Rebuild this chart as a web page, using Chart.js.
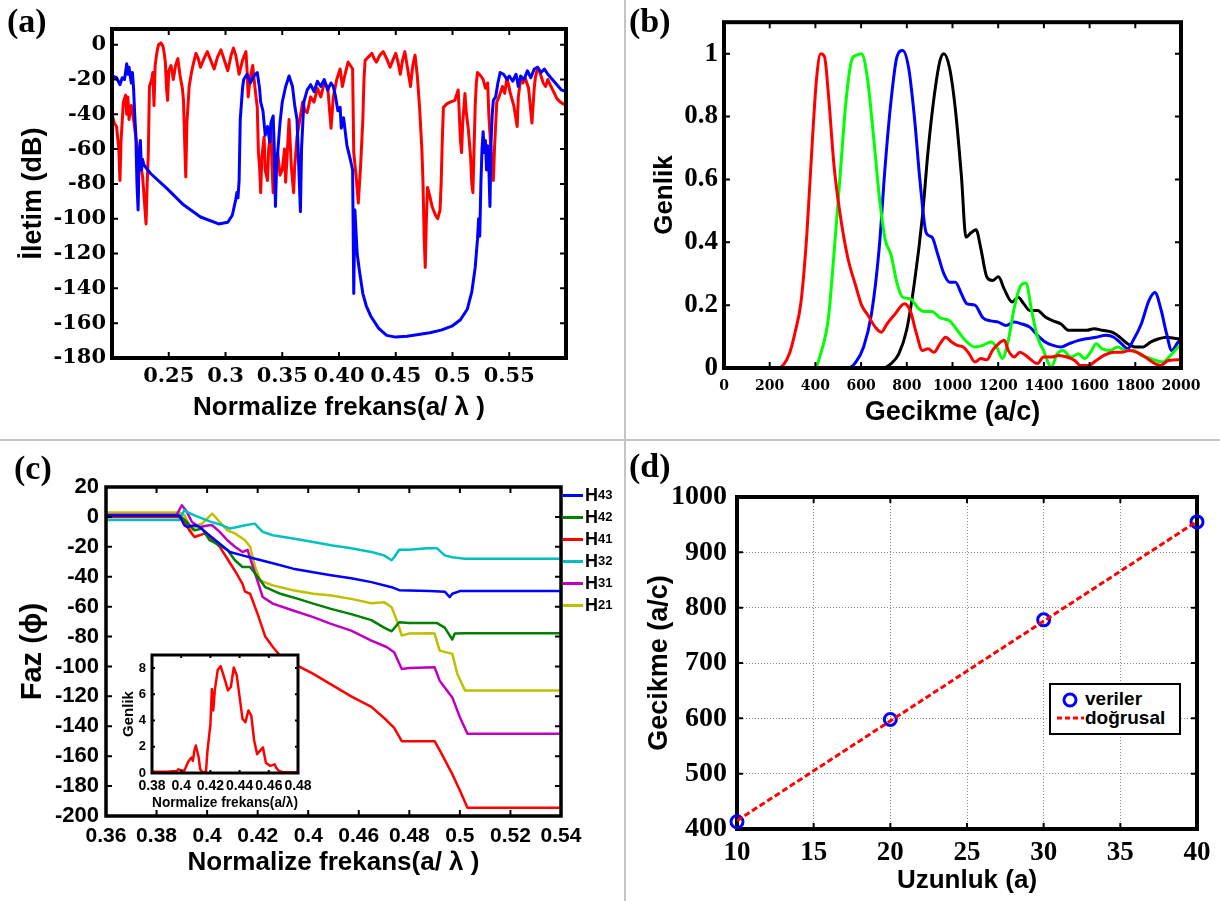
<!DOCTYPE html>
<html>
<head>
<meta charset="utf-8">
<script src="https://cdn.jsdelivr.net/npm/chart.js@4.4.1/dist/chart.umd.min.js"></script>
<style>
  body { margin: 0; background: #fff; width: 1220px; height: 901px; position: relative; overflow: hidden;
         font-family: 'Liberation Sans', Arial, sans-serif; }
  canvas { position: absolute; }
  .sep { position: absolute; background: #c4c4c4; }
  .tag { position: absolute; font: bold 34px 'Liberation Serif', serif; line-height: 1; }
  .lg-row { position: absolute; left: 563px; height: 20px; display: flex; align-items: center;
            font: bold 18px 'Liberation Sans', Arial, sans-serif; }
  .lg-row i { display: inline-block; width: 20px; height: 3px; margin-right: 2px; }
  .lg-row sub { font-size: 13px; vertical-align: -5px; line-height: 0; }
  #legendD { position: absolute; left: 1049px; top: 683px; width: 128px; height: 48px;
             border: 2px solid #000; background: #fff; font: bold 19px 'Liberation Sans', Arial, sans-serif; }
  #legendD div { position: absolute; left: 34px; line-height: 20px; }
</style>
</head>
<body>
<div class="sep" style="left:624px;top:0;width:2px;height:901px"></div>
<div class="sep" style="left:0;top:439px;width:1220px;height:2px"></div>

<canvas id="chartA" width="622" height="438" style="left:0;top:0"></canvas>
<canvas id="chartB" width="594" height="438" style="left:626px;top:0"></canvas>
<canvas id="chartC" width="622" height="459" style="left:0;top:442px"></canvas>
<canvas id="chartD" width="594" height="459" style="left:626px;top:442px"></canvas>
<canvas id="chartInset" width="215" height="175" style="left:110px;top:640px"></canvas>

<div class="tag" style="left:7px;top:4px">(a)</div>
<div class="tag" style="left:629px;top:4px">(b)</div>
<div class="tag" style="left:14px;top:451px">(c)</div>
<div class="tag" style="left:629px;top:449px">(d)</div>

<div id="legendC"></div>

<div id="legendD">
  <svg style="position:absolute;left:4px;top:4px" width="30" height="40">
    <circle cx="15" cy="11" r="6" fill="none" stroke="#0000ff" stroke-width="3"/>
    <line x1="2" y1="29" x2="29" y2="29" stroke="#ff0000" stroke-width="3" stroke-dasharray="5 3"/>
  </svg>
  <div style="top:4px">veriler</div>
  <div style="top:23px">doğrusal</div>
</div>

<script>
// ─── Panel (a): transmission (dB) vs normalized frequency ─────────────────────
const A_BLUE_F = [0.200, 0.204, 0.207, 0.209, 0.211, 0.213, 0.214, 0.215, 0.217, 0.218, 0.219, 0.220, 0.221, 0.222, 0.223, 0.224, 0.225, 0.226, 0.227, 0.228,
  0.234, 0.249, 0.263, 0.278, 0.294, 0.302, 0.306, 0.309, 0.310, 0.311, 0.312, 0.313, 0.315, 0.316, 0.319, 0.322, 0.325, 0.328, 0.330, 0.331,
  0.333, 0.335, 0.337, 0.339, 0.340, 0.342, 0.343, 0.344, 0.345, 0.346, 0.348, 0.350, 0.353, 0.356, 0.359, 0.361, 0.363, 0.364, 0.366, 0.367,
  0.369, 0.372, 0.375, 0.378, 0.381, 0.384, 0.387, 0.390, 0.393, 0.395, 0.397, 0.399, 0.401, 0.402, 0.404, 0.407, 0.410, 0.412, 0.413, 0.414,
  0.416, 0.418, 0.421, 0.424, 0.428, 0.435, 0.442, 0.450, 0.460, 0.470, 0.480, 0.490, 0.500, 0.507, 0.513, 0.517, 0.520, 0.522, 0.523, 0.524,
  0.525, 0.526, 0.527, 0.528, 0.529, 0.530, 0.531, 0.532, 0.533, 0.534, 0.535, 0.536, 0.538, 0.540, 0.542, 0.545, 0.548, 0.550, 0.553, 0.556,
  0.558, 0.560, 0.563, 0.566, 0.569, 0.572, 0.575, 0.578, 0.581, 0.584, 0.588, 0.592, 0.596, 0.600];
const A_BLUE_DB = [-18, -19, -23, -19, -20, -11, -17, -13, -22, -16, -25, -40, -52, -80, -95, -62, -55, -72, -66, -69,
  -74, -83, -92, -99, -103, -102, -98, -89, -85, -88, -78, -43, -25, -20, -17, -22, -18, -16, -25, -33,
  -38, -52, -47, -56, -45, -41, -60, -93, -70, -62, -45, -33, -24, -18, -24, -35, -43, -60, -96, -60,
  -33, -26, -23, -27, -21, -24, -20, -26, -22, -24, -30, -38, -36, -48, -42, -58, -66, -72, -143, -95,
  -120, -130, -143, -150, -156, -163, -167, -168, -167.5, -166.5, -165.5, -164, -161.5, -158, -152, -142, -128, -112, -100, -110,
  -80, -60, -50, -62, -55, -72, -58, -70, -93, -55, -40, -32, -30, -22, -16, -17, -20, -18, -21, -17,
  -24, -18, -20, -15, -19, -14, -13, -16, -14, -17, -20, -23, -26, -27];

const A_RED_F = [0.200, 0.202, 0.204, 0.206, 0.207, 0.208, 0.210, 0.212, 0.213, 0.214, 0.215, 0.217, 0.218, 0.220, 0.221, 0.223, 0.224, 0.226, 0.227, 0.228,
  0.230, 0.231, 0.232, 0.233, 0.235, 0.236, 0.237, 0.238, 0.239, 0.240, 0.241, 0.243, 0.245, 0.246, 0.247, 0.248, 0.249, 0.250, 0.252, 0.254,
  0.256, 0.258, 0.260, 0.262, 0.263, 0.264, 0.265, 0.266, 0.268, 0.270, 0.272, 0.274, 0.276, 0.278, 0.281, 0.284, 0.287, 0.290, 0.293, 0.296,
  0.299, 0.302, 0.305, 0.307, 0.309, 0.312, 0.315, 0.318, 0.319, 0.320, 0.322, 0.324, 0.326, 0.328, 0.329, 0.330, 0.331, 0.332, 0.334, 0.335,
  0.337, 0.338, 0.340, 0.341, 0.342, 0.344, 0.346, 0.348, 0.350, 0.352, 0.353, 0.355, 0.356, 0.358, 0.360, 0.361, 0.363, 0.365, 0.368, 0.370,
  0.372, 0.375, 0.378, 0.381, 0.384, 0.387, 0.390, 0.392, 0.393, 0.395, 0.398, 0.401, 0.403, 0.405, 0.408, 0.410, 0.412, 0.413, 0.415, 0.417,
  0.419, 0.421, 0.422, 0.423, 0.426, 0.429, 0.431, 0.433, 0.436, 0.439, 0.442, 0.445, 0.448, 0.450, 0.452, 0.454, 0.456, 0.458, 0.460, 0.463,
  0.465, 0.467, 0.469, 0.471, 0.473, 0.474, 0.475, 0.476, 0.477, 0.478, 0.480, 0.482, 0.485, 0.487, 0.489, 0.490, 0.491, 0.492, 0.495, 0.498,
  0.502, 0.505, 0.506, 0.507, 0.508, 0.509, 0.511, 0.512, 0.514, 0.516, 0.517, 0.518, 0.519, 0.520, 0.521, 0.522, 0.525, 0.527, 0.529, 0.531,
  0.532, 0.534, 0.535, 0.536, 0.537, 0.539, 0.541, 0.544, 0.546, 0.548, 0.551, 0.554, 0.557, 0.558, 0.560, 0.562, 0.564, 0.567, 0.570, 0.572,
  0.573, 0.575, 0.577, 0.580, 0.582, 0.584, 0.586, 0.589, 0.592, 0.595, 0.600];
const A_RED_DB = [-40, -45, -47, -60, -78, -55, -33, -29, -40, -30, -43, -35, -38, -48, -53, -62, -68, -72, -76, -85,
  -103, -80, -62, -24, -20, -16, -35, -12, -7, -3, 0, 1, -1, -5, -10, -25, -32, -15, -12, -20,
  -12, -8, -18, -25, -32, -55, -76, -45, -24, -16, -10, -5, -8, -13, -8, -4, -9, -14, -7, -3,
  -9, -15, -6, -2, -6, -17, -9, -4, -15, -30, -18, -12, -25, -36, -62, -70, -85, -65, -53, -72,
  -78, -60, -49, -70, -85, -65, -62, -75, -72, -60, -79, -55, -43, -70, -85, -70, -53, -45, -33, -38,
  -39, -30, -33, -25, -30, -22, -24, -40, -48, -30, -20, -14, -24, -18, -10, -12, -14, -62, -75, -91,
  -70, -43, -20, -9, -7, -5, -8, -10, -6, -4, -8, -13, -8, -5, -10, -17, -9, -4, -12, -24,
  -12, -6, -18, -36, -60, -79, -110, -128, -100, -82, -87, -93, -98, -100, -95, -80, -55, -36, -34, -33,
  -32, -26, -40, -55, -62, -45, -28, -38, -49, -65, -80, -85, -60, -35, -22, -16, -18, -20, -25, -22,
  -40, -62, -70, -78, -60, -33, -30, -24, -28, -19, -28, -35, -47, -30, -20, -22, -19, -25, -45, -25,
  -19, -13, -16, -22, -24, -20, -23, -27, -31, -33, -35];

const A_XTICKS = [0.25, 0.3, 0.35, 0.4, 0.45, 0.5, 0.55];
const A_XLABELS = ['0.25', '0.3', '0.35', '0.40', '0.45', '0.5', '0.55'];
const A_YTICKS = [0, -20, -40, -60, -80, -100, -120, -140, -160, -180];
const A_YLABELS = ['0', '-20', '-40', '-60', '-80', '-100', '-120', '-140', '-160', '-180'];

// ─── Panel (b): normalized amplitude vs delay ─────────────────────────────────
const B_RED_T = [0, 234, 260, 286, 310, 337, 363, 388, 405, 423, 440, 457, 482, 508, 542, 577, 602, 628, 662, 688, 713, 747, 790, 816, 842, 868, 893, 919, 945, 970,
  996, 1021, 1047, 1073, 1098, 1124, 1150, 1175, 1201, 1227, 1244, 1270, 1295, 1321, 1347, 1372, 1398, 1432, 1466, 1501, 1535, 1560, 1595, 1629, 1663, 1706, 1740, 1774, 1808, 1843,
  1886, 1911, 1945, 1988, 2000];
const B_RED_A = [0, 0, 0.01, 0.045, 0.11, 0.21, 0.43, 0.74, 0.92, 1.0, 0.99, 0.87, 0.64, 0.49, 0.35, 0.26, 0.20, 0.17, 0.13, 0.114, 0.14, 0.17, 0.204, 0.18, 0.11, 0.056, 0.061, 0.05, 0.077, 0.098,
  0.083, 0.072, 0.067, 0.045, 0.019, 0.03, 0.026, 0.056, 0.077, 0.088, 0.056, 0.035, 0.05, 0.04, 0.024, 0.014, 0.035, 0.035, 0.04, 0.035, 0.024, 0.008, 0.008, 0.024, 0.04, 0.05, 0.05, 0.056, 0.05, 0.035,
  0.014, 0.008, 0.024, 0.026, 0.026];
const B_GREEN_T = [0, 397, 423, 457, 482, 508, 534, 559, 580, 602, 628, 654, 679, 705, 731, 757, 782, 816, 850, 876, 910, 945, 988, 1021, 1056, 1098, 1133, 1167, 1193, 1218,
  1244, 1270, 1295, 1321, 1347, 1372, 1398, 1432, 1458, 1484, 1518, 1552, 1578, 1604, 1629, 1655, 1689, 1723, 1757, 1791, 1826, 1868, 1920, 1954, 1988, 2000];
const B_GREEN_A = [0, 0, 0.045, 0.16, 0.37, 0.61, 0.85, 0.98, 0.995, 1.0, 0.92, 0.74, 0.55, 0.41, 0.36, 0.27, 0.225, 0.22, 0.19, 0.18, 0.18, 0.16, 0.15, 0.12, 0.088, 0.067, 0.072, 0.083, 0.067, 0.03,
  0.088, 0.19, 0.257, 0.27, 0.18, 0.098, 0.056, 0.003, 0.045, 0.056, 0.035, 0.045, 0.03, 0.05, 0.077, 0.061, 0.056, 0.067, 0.056, 0.056, 0.04, 0.03, 0.019, 0.04, 0.067, 0.075];
const B_BLUE_T = [0, 542, 577, 611, 645, 679, 705, 731, 757, 782, 808, 833, 859, 885, 910, 936, 962, 987, 1013, 1039, 1064, 1098, 1133, 1167, 1201, 1235, 1270, 1304, 1338, 1372,
  1406, 1440, 1475, 1509, 1552, 1586, 1629, 1672, 1706, 1740, 1766, 1791, 1826, 1860, 1886, 1911, 1937, 1959, 1988, 2000];
const B_BLUE_A = [0, 0, 0.019, 0.067, 0.17, 0.38, 0.64, 0.85, 0.99, 1.01, 0.955, 0.8, 0.585, 0.43, 0.416, 0.36, 0.30, 0.273, 0.273, 0.236, 0.204, 0.2, 0.16, 0.15, 0.146, 0.135, 0.146, 0.14, 0.13, 0.104,
  0.083, 0.072, 0.067, 0.077, 0.088, 0.093, 0.098, 0.104, 0.098, 0.077, 0.061, 0.088, 0.14, 0.215, 0.24, 0.19, 0.109, 0.056, 0.083, 0.09];
const B_BLACK_T = [0, 696, 731, 765, 799, 833, 868, 893, 919, 945, 962, 987, 1013, 1039, 1059, 1081, 1103, 1124, 1150, 1175, 1201, 1227, 1261, 1287, 1312, 1338, 1372, 1406, 1440, 1475,
  1509, 1552, 1586, 1620, 1655, 1698, 1732, 1766, 1800, 1834, 1868, 1903, 1937, 1988, 2000];
const B_BLACK_A = [0, 0, 0.014, 0.045, 0.12, 0.27, 0.48, 0.69, 0.86, 0.977, 1.0, 0.955, 0.82, 0.61, 0.416, 0.43, 0.44, 0.38, 0.29, 0.278, 0.29, 0.25, 0.21, 0.225, 0.204, 0.183, 0.183, 0.162, 0.15, 0.14,
  0.12, 0.12, 0.12, 0.125, 0.12, 0.114, 0.098, 0.077, 0.067, 0.067, 0.083, 0.093, 0.098, 0.093, 0.093];

const B_XTICKS = [0, 200, 400, 600, 800, 1000, 1200, 1400, 1600, 1800, 2000];
const B_XLABELS = ['0', '200', '400', '600', '800', '1000', '1200', '1400', '1600', '1800', '2000'];
const B_YTICKS = [0, 0.2, 0.4, 0.6, 0.8, 1];
const B_YLABELS = ['0', '0.2', '0.4', '0.6', '0.8', '1'];

// ─── Panel (c): phase vs normalized frequency ─────────────────────────────────
const C_H43_F = [0.36, 0.389, 0.391, 0.392, 0.395, 0.397, 0.4, 0.405, 0.409, 0.414, 0.419, 0.426, 0.434, 0.442, 0.449, 0.457, 0.465, 0.473, 0.476, 0.488, 0.494, 0.496, 0.497, 0.5, 0.54];
const C_H43_P = [1, 1, -5.6, -6.7, -5.6, -6.7, -11, -18, -23.5, -25.7, -28, -31, -34.6, -37, -39, -41, -43.6, -47, -49, -49.6, -50, -53.6, -51.4, -49.6, -49.6];
const C_H42_F = [0.36, 0.389, 0.392, 0.395, 0.398, 0.401, 0.405, 0.408, 0.411, 0.414, 0.417, 0.42, 0.423, 0.429, 0.436, 0.442, 0.449, 0.457, 0.465, 0.47, 0.473, 0.476, 0.48, 0.491, 0.494, 0.497, 0.498, 0.502, 0.54];
const C_H42_P = [1, 1, -3.4, -9, -7.8, -15.6, -19, -22, -29, -33.5, -33.5, -40, -47, -51.4, -54.8, -58, -61.5, -65, -69, -74, -76.5, -70.4, -71, -71, -74, -82, -78, -77.8, -77.8];
const C_H41_F = [0.36, 0.389, 0.391, 0.393, 0.395, 0.397, 0.399, 0.401, 0.405, 0.408, 0.411, 0.414, 0.415, 0.417, 0.42, 0.423, 0.426, 0.429, 0.434, 0.442, 0.449, 0.457, 0.465, 0.471, 0.474, 0.477, 0.48, 0.49, 0.492, 0.497, 0.5, 0.503, 0.54];
const C_H41_P = [0, 0, -2.2, -9, -13.4, -12.3, -11, -13.4, -20, -28, -36, -44.7, -50, -51.4, -65, -80, -87, -93, -98, -105, -112, -120, -127, -136, -141, -150, -150, -150, -156, -172, -183, -194.5, -194.5];
const C_H32_F = [0.36, 0.389, 0.391, 0.392, 0.395, 0.398, 0.401, 0.406, 0.409, 0.412, 0.415, 0.419, 0.42, 0.422, 0.426, 0.434, 0.442, 0.449, 0.457, 0.465, 0.47, 0.473, 0.474, 0.476, 0.48, 0.487, 0.491, 0.494, 0.497, 0.502, 0.54];
const C_H32_P = [-2, -2, 4.5, 3.4, 1, -1, -3, -5.6, -7.8, -6.7, -5.6, -4.5, -6.7, -10, -12.3, -14.5, -16.8, -19, -21, -23.5, -25.7, -29, -27, -22, -22, -21, -21, -25.7, -27, -28, -28];
const C_H31_F = [0.36, 0.388, 0.39, 0.392, 0.394, 0.397, 0.401, 0.402, 0.405, 0.408, 0.411, 0.414, 0.416, 0.419, 0.422, 0.426, 0.434, 0.442, 0.449, 0.457, 0.465, 0.471, 0.474, 0.477, 0.48, 0.49, 0.492, 0.497, 0.5, 0.503, 0.54];
const C_H31_P = [1.5, 1.5, 7.8, 3.4, -3.4, -6.7, -5.6, -5.6, -10, -15.6, -20, -23.5, -22, -38, -53.6, -58, -62.6, -67, -71.5, -76, -82.7, -87, -90.5, -101.7, -101, -100.6, -109.5, -120.7, -134, -145, -145];
const C_H21_F = [0.36, 0.389, 0.391, 0.394, 0.396, 0.398, 0.402, 0.405, 0.408, 0.411, 0.415, 0.417, 0.419, 0.421, 0.426, 0.434, 0.442, 0.449, 0.457, 0.465, 0.47, 0.473, 0.475, 0.477, 0.48, 0.488, 0.49, 0.492, 0.497, 0.499, 0.502, 0.54];
const C_H21_P = [3, 3, 1, -9, -5.6, -4.5, 2.2, -3.4, -9, -11, -15.6, -20, -33.5, -42.5, -45.8, -49, -51.4, -52.5, -54.8, -57.7, -57, -60.4, -69, -79.3, -78, -77.8, -78, -89.4, -91.6, -105, -116, -116];

const C_SERIES = ['H43', 'H42', 'H41', 'H32', 'H31', 'H21'];
const C_COLORS = ['#0000ff', '#008000', '#ff0000', '#00bfbf', '#bf00bf', '#bfbf00'];

const C_XTICKS = [0.36, 0.38, 0.40, 0.42, 0.44, 0.46, 0.48, 0.50, 0.52, 0.54];
const C_XLABELS = ['0.36', '0.38', '0.4', '0.42', '0.4', '0.46', '0.48', '0.5', '0.52', '0.54'];
const C_YTICKS = [20, 0, -20, -40, -60, -80, -100, -120, -140, -160, -180, -200];
const C_YLABELS = ['20', '0', '-20', '-40', '-60', '-80', '-100', '-120', '-140', '-160', '-180', '-200'];

// inset: amplitude spectrum
const INSET_F = [0.38, 0.39, 0.397, 0.398, 0.402, 0.405, 0.407, 0.408, 0.409, 0.41, 0.412, 0.413, 0.415, 0.417, 0.418, 0.42, 0.421, 0.422, 0.423, 0.425, 0.427,
  0.43, 0.432, 0.434, 0.436, 0.438, 0.44, 0.442, 0.444, 0.446, 0.448, 0.45, 0.452, 0.455, 0.456, 0.458, 0.461, 0.464, 0.465, 0.467, 0.47, 0.48];
const INSET_A = [0.1, 0.1, 0.15, 0.28, 0.15, 0.9, 1.18, 0.92, 1.7, 2.1, 1.18, 0.28, 0, 0.15, 1.7, 3.7, 6.4, 4.77, 6.3, 7.85, 8.15,
  7.08, 6.3, 6.56, 8.05, 7.46, 5.8, 4.13, 3.87, 4.77, 4.38, 2.46, 1.44, 1.82, 1.95, 0.79, 0.54, 0.66, 0.41, 0.15, 0.05, 0.03];
const INSET_XTICKS = [0.38, 0.40, 0.42, 0.44, 0.46, 0.48];
const INSET_XLABELS = ['0.38', '0.4', '0.42', '0.44', '0.46', '0.48'];
const INSET_YTICKS = [0, 2, 4, 6, 8];
const INSET_YLABELS = ['0', '2', '4', '6', '8'];

// ─── Panel (d): delay vs length ───────────────────────────────────────────────
const D_LENGTH = [10, 20, 30, 40];
const D_DELAY = [413, 598, 778, 955];
const D_FIT_X = [10, 40];
const D_FIT_Y = [415, 956];
const D_XTICKS = [10, 15, 20, 25, 30, 35, 40];
const D_XLABELS = ['10', '15', '20', '25', '30', '35', '40'];
const D_YTICKS = [400, 500, 600, 700, 800, 900, 1000];
const D_YLABELS = ['400', '500', '600', '700', '800', '900', '1000'];

// ─── Fonts ────────────────────────────────────────────────────────────────────
const SANS = "'Liberation Sans', Arial, sans-serif";
const SERIF = "'Liberation Serif', serif";
const DJ_SERIF = "'DejaVu Serif', serif";

function xy(xs, ys) {
    return xs.map((x, i) => ({ x, y: ys[i] }));
}

// ─── Frame plugin: thick box + inward tick marks (MATLAB style) ───────────────
function drawFrame(chart, o) {
    const { ctx, chartArea: a, scales } = chart;
    ctx.save();
    ctx.strokeStyle = '#000';
    ctx.lineWidth = o.tickWidth || 2;
    ctx.beginPath();
    scales.x.ticks.forEach(tk => {
        const px = scales.x.getPixelForValue(tk.value);
        ctx.moveTo(px, a.bottom); ctx.lineTo(px, a.bottom - o.tick);
        ctx.moveTo(px, a.top); ctx.lineTo(px, a.top + o.tick);
    });
    scales.y.ticks.forEach(tk => {
        const py = scales.y.getPixelForValue(tk.value);
        ctx.moveTo(a.left, py); ctx.lineTo(a.left + o.tick, py);
        ctx.moveTo(a.right, py); ctx.lineTo(a.right - o.tick, py);
    });
    ctx.stroke();
    ctx.lineWidth = o.width;
    ctx.strokeRect(a.left, a.top, a.right - a.left, a.bottom - a.top);
    ctx.restore();
}

const framePlugin = {
    id: 'frame',
    beforeDraw(chart, args, o) {
        if (!o.fill) return;
        const { ctx, chartArea: a } = chart;
        ctx.save();
        ctx.fillStyle = o.fill;
        ctx.fillRect(a.left, a.top, a.right - a.left, a.bottom - a.top);
        ctx.restore();
    },
    beforeDatasetsDraw(chart, args, o) { if (!o.onTop) drawFrame(chart, o); },
    afterDatasetsDraw(chart, args, o) { if (o.onTop) drawFrame(chart, o); },
};

// ─── Axis factory ─────────────────────────────────────────────────────────────
function makeAxis(o) {
    const vertical = o.position === 'left';
    return {
        type: 'linear',
        position: o.position,
        bounds: 'data',
        min: o.min,
        max: o.max,
        afterBuildTicks: s => { s.ticks = o.ticks.map(v => ({ value: v })); },
        afterFit: s => { if (vertical) s.width = o.size; else s.height = o.size; },
        grid: o.grid || { display: false, drawTicks: false },
        border: o.border || { display: false },
        ticks: {
            autoSkip: false,
            maxRotation: 0,
            minRotation: 0,
            padding: o.pad,
            color: '#000',
            font: o.font,
            callback: (v, i) => o.labels[i],
        },
        title: {
            display: true,
            text: o.title,
            color: '#000',
            font: o.titleFont,
            padding: vertical ? { top: o.titlePad, bottom: 0 } : { top: 0, bottom: o.titlePad },
        },
    };
}

function baseOptions(padding, scales, frame) {
    return {
        responsive: false,
        animation: false,
        events: [],
        layout: { padding },
        scales,
        plugins: {
            legend: { display: false },
            tooltip: { enabled: false },
            frame,
        },
    };
}

function lineSet(data, color, width, extra = {}) {
    return Object.assign({
        data,
        borderColor: color,
        backgroundColor: color,
        borderWidth: width,
        pointRadius: 0,
        tension: 0,
        borderJoinStyle: 'round',
        borderCapStyle: 'round',
    }, extra);
}

// ─── Panel (a) ────────────────────────────────────────────────────────────────
new Chart(document.getElementById('chartA'), {
    type: 'line',
    data: {
        datasets: [
            lineSet(xy(A_BLUE_F, A_BLUE_DB), '#0000ff', 3),
            lineSet(xy(A_RED_F, A_RED_DB), '#ff0000', 3),
        ]
    },
    options: baseOptions({ left: 12, right: 56, top: 29, bottom: 0 }, {
        x: makeAxis({
            position: 'bottom', min: 0.2, max: 0.6, ticks: A_XTICKS, labels: A_XLABELS, size: 80, pad: 6,
            font: { family: DJ_SERIF, size: 21, weight: 'bold' },
            title: 'Normalize frekans(a/ λ )', titleFont: { family: SANS, size: 26, weight: 'bold' }, titlePad: 15,
        }),
        y: makeAxis({
            position: 'left', min: -180, max: 9, ticks: A_YTICKS, labels: A_YLABELS, size: 100, pad: 6,
            font: { family: DJ_SERIF, size: 21, weight: 'bold' },
            title: 'İletim (dB)', titleFont: { family: SANS, size: 27, weight: 'bold' }, titlePad: 5,
        }),
    }, { width: 4, tick: 6, onTop: true }),
    plugins: [framePlugin],
});

// ─── Panel (b) ────────────────────────────────────────────────────────────────
const smooth = { cubicInterpolationMode: 'monotone' };
new Chart(document.getElementById('chartB'), {
    type: 'line',
    data: {
        datasets: [
            lineSet(xy(B_RED_T, B_RED_A), '#ff0000', 3, smooth),
            lineSet(xy(B_GREEN_T, B_GREEN_A), '#00ff00', 3, smooth),
            lineSet(xy(B_BLUE_T, B_BLUE_A), '#0000ff', 3, smooth),
            lineSet(xy(B_BLACK_T, B_BLACK_A), '#000000', 3, smooth),
        ]
    },
    options: baseOptions({ left: 0, right: 39, top: 21, bottom: 0 }, {
        x: makeAxis({
            position: 'bottom', min: 0, max: 2000, ticks: B_XTICKS, labels: B_XLABELS, size: 70, pad: 10,
            font: { family: DJ_SERIF, size: 14, weight: 'bold' },
            title: 'Gecikme (a/c)', titleFont: { family: SANS, size: 27, weight: 'bold' }, titlePad: 9,
        }),
        y: makeAxis({
            position: 'left', min: 0, max: 1.1, ticks: B_YTICKS, labels: B_YLABELS, size: 98, pad: 6,
            font: { family: SERIF, size: 27, weight: 'bold' },
            title: 'Genlik', titleFont: { family: SANS, size: 26, weight: 'bold' }, titlePad: 23,
        }),
    }, { width: 4, tick: 6, onTop: true }),
    plugins: [framePlugin],
});

// ─── Panel (c) ────────────────────────────────────────────────────────────────
const C_DATA = [
    xy(C_H43_F, C_H43_P), xy(C_H42_F, C_H42_P), xy(C_H41_F, C_H41_P),
    xy(C_H32_F, C_H32_P), xy(C_H31_F, C_H31_P), xy(C_H21_F, C_H21_P),
];
new Chart(document.getElementById('chartC'), {
    type: 'line',
    data: {
        datasets: C_DATA.map((d, i) => lineSet(d, C_COLORS[i], 2.5, { label: C_SERIES[i] }))
    },
    options: baseOptions({ left: 0, right: 61, top: 45, bottom: 0 }, {
        x: makeAxis({
            position: 'bottom', min: 0.36, max: 0.54, ticks: C_XTICKS, labels: C_XLABELS, size: 85, pad: 8,
            font: { family: SANS, size: 21, weight: 'bold' },
            title: 'Normalize frekans(a/ λ )', titleFont: { family: SANS, size: 26, weight: 'bold' }, titlePad: 23,
        }),
        y: makeAxis({
            position: 'left', min: -200, max: 20, ticks: C_YTICKS, labels: C_YLABELS, size: 106, pad: 7,
            font: { family: SANS, size: 22, weight: 'bold' },
            title: 'Faz (ϕ)', titleFont: { family: SANS, size: 29, weight: 'bold' }, titlePad: 16,
        }),
    }, { width: 3.5, tick: 6, onTop: true }),
    plugins: [framePlugin],
});

// legend for (c), with subscripts
const legendC = document.getElementById('legendC');
C_SERIES.forEach((name, i) => {
    const row = document.createElement('div');
    row.className = 'lg-row';
    row.style.top = (485 + i * 22) + 'px';
    row.innerHTML = `<i style="background:${C_COLORS[i]}"></i>${name[0]}<sub>${name.slice(1)}</sub>`;
    legendC.appendChild(row);
});

// inset of (c)
new Chart(document.getElementById('chartInset'), {
    type: 'line',
    data: { datasets: [lineSet(xy(INSET_F, INSET_A), '#ff0000', 2.5)] },
    options: baseOptions({ left: 0, right: 27, top: 15, bottom: 0 }, {
        x: makeAxis({
            position: 'bottom', min: 0.38, max: 0.48, ticks: INSET_XTICKS, labels: INSET_XLABELS, size: 42, pad: 5,
            font: { family: SANS, size: 14, weight: 'bold' },
            title: 'Normalize frekans(a/λ)', titleFont: { family: SANS, size: 15, weight: 'bold' }, titlePad: 3,
        }),
        y: makeAxis({
            position: 'left', min: 0, max: 9, ticks: INSET_YTICKS, labels: INSET_YLABELS, size: 42, pad: 6,
            font: { family: SANS, size: 13, weight: 'bold' },
            title: 'Genlik', titleFont: { family: SANS, size: 15, weight: 'bold' }, titlePad: 10,
        }),
    }, { width: 3, tick: 3, onTop: true, fill: '#ffffff' }),
    plugins: [framePlugin],
});

// ─── Panel (d) ────────────────────────────────────────────────────────────────
const dGrid = { display: true, drawTicks: false, color: '#8c8c8c', lineWidth: 1 };
const dBorder = { display: false, dash: [1, 2] };
new Chart(document.getElementById('chartD'), {
    type: 'scatter',
    data: {
        datasets: [
            {
                type: 'line',
                data: xy(D_FIT_X, D_FIT_Y),
                borderColor: '#ff0000',
                borderWidth: 3,
                borderDash: [6, 3],
                pointRadius: 0,
            },
            {
                data: xy(D_LENGTH, D_DELAY),
                showLine: false,
                pointStyle: 'circle',
                pointRadius: 6,
                borderWidth: 3,
                borderColor: '#0000ff',
                backgroundColor: 'rgba(0,0,0,0)',
                clip: false,
            },
        ]
    },
    options: baseOptions({ left: 0, right: 23, top: 55, bottom: 0 }, {
        x: makeAxis({
            position: 'bottom', min: 10, max: 40, ticks: D_XTICKS, labels: D_XLABELS, size: 72, pad: 8,
            font: { family: SERIF, size: 27, weight: 'bold' }, grid: dGrid, border: dBorder,
            title: 'Uzunluk (a)', titleFont: { family: SANS, size: 26, weight: 'bold' }, titlePad: 5,
        }),
        y: makeAxis({
            position: 'left', min: 400, max: 1000, ticks: D_YTICKS, labels: D_YLABELS, size: 111, pad: 10,
            font: { family: SERIF, size: 28, weight: 'bold' }, grid: dGrid, border: dBorder,
            title: 'Gecikme (a/c)', titleFont: { family: SANS, size: 27, weight: 'bold' }, titlePad: 17,
        }),
    }, { width: 4, tick: 6, onTop: false }),
    plugins: [framePlugin],
});
</script>
</body>
</html>
